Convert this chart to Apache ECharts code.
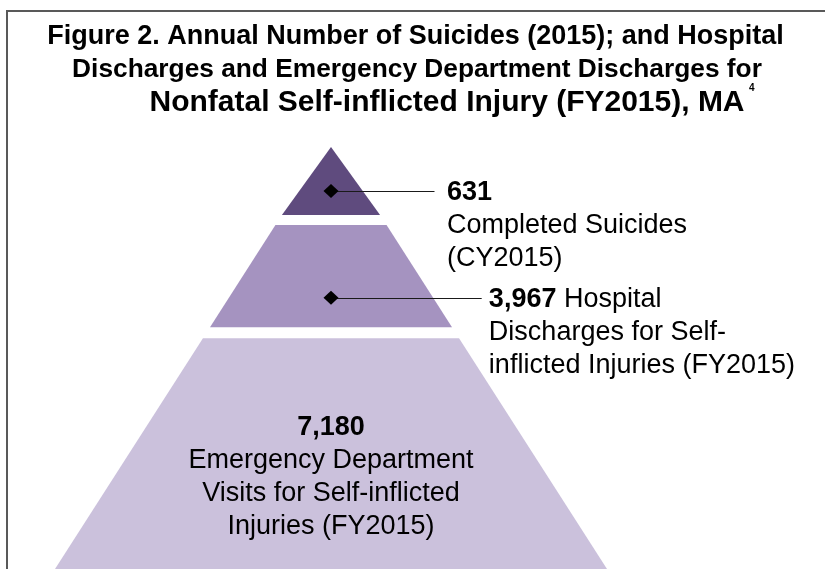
<!DOCTYPE html>
<html>
<head>
<meta charset="utf-8">
<script src="https://cdn.jsdelivr.net/npm/echarts@6/dist/echarts.min.js"></script>
<style>
html, body { margin: 0; padding: 0; background: #ffffff; }
#chart { width: 825px; height: 569px; }
</style>
</head>
<body>
<div id="chart"></div>
<script>
// ---------------- data ----------------
const titleLines = [
  'Figure 2. Annual Number of Suicides (2015); and Hospital',
  'Discharges and Emergency Department Discharges for',
  'Nonfatal Self-inflicted Injury (FY2015), MA'
];
const footnoteMark = '4';
const tierNames = ['Completed Suicides', 'Hospital Discharges', 'Emergency Department Visits'];
const tierValues = [631, 3967, 7180];
const tierLeadText = ['', 'Hospital', ''];
const tierDetailLines = [
  ['Completed Suicides', '(CY2015)'],
  ['Discharges for Self-', 'inflicted Injuries (FY2015)'],
  ['Emergency Department', 'Visits for Self-inflicted', 'Injuries (FY2015)']
];

// ---------------- style / layout ----------------
const FONT = '"Liberation Sans", Arial, Helvetica, sans-serif';
const FS = 27, LH = 33;
const tierColors = ['#5f4b7e', '#a593c0', '#cbc1dc'];
// depth bands measured from the apex (0) to the bottom of the picture (1)
const tierBands = [[0, 0.161], [0.185, 0.427], [0.453, 1.0]];
const halfWidth = d => (d <= 0 ? 0 : 0.02 + 0.98 * d);
const labelLayout = [
  { mode: 'side', depth: 0.104, lineEnd: 0.375, textX: 0.42 },
  { mode: 'side', depth: 0.357, lineEnd: 0.546, textX: 0.572 },
  { mode: 'inside', depth: 0.781 }
];
// title line placement: [centre x, centre y, font size]
const titleLayout = [[415.5, 37, 27], [417, 70, 26.3], [447, 103, 30]];

const fmt = v => v.toLocaleString('en-US');

function labelText(i) {
  const parts = [];
  const first = '{b|' + fmt(tierValues[i]) + '}' + (tierLeadText[i] ? '{n| ' + tierLeadText[i] + '}' : '');
  parts.push(first);
  tierDetailLines[i].forEach(l => parts.push('{n|' + l + '}'));
  return parts.join('\n');
}

const rich = {
  b: { fontFamily: FONT, fontWeight: 'bold', fontSize: FS, lineHeight: LH, fill: '#000', color: '#000' },
  n: { fontFamily: FONT, fontWeight: 'normal', fontSize: FS, lineHeight: LH, fill: '#000', color: '#000' }
};

function renderItem(params, api) {
  const i = params.dataIndex;
  const band = tierBands[i];
  const t = band[0], b = band[1];
  const pts = [];
  if (halfWidth(t) === 0) {
    pts.push(api.coord([0, t]));
  } else {
    pts.push(api.coord([-halfWidth(t), t]));
    pts.push(api.coord([halfWidth(t), t]));
  }
  pts.push(api.coord([halfWidth(b), b]));
  pts.push(api.coord([-halfWidth(b), b]));

  const children = [{
    type: 'polygon',
    shape: { points: pts },
    style: { fill: tierColors[i], stroke: null }
  }];

  const lay = labelLayout[i];
  const text = labelText(i);
  if (lay.mode === 'side') {
    const c = api.coord([0, lay.depth]);
    const e = api.coord([lay.lineEnd, lay.depth]);
    const tx = api.coord([lay.textX, lay.depth]);
    const cy = Math.round(c[1]) + 0.5;
    children.push({
      type: 'line',
      shape: { x1: c[0], y1: cy, x2: e[0], y2: cy },
      style: { stroke: '#1a1a1a', lineWidth: 1 }
    });
    children.push({
      type: 'polygon',
      shape: { points: [[c[0], c[1] - 7], [c[0] + 7.5, c[1]], [c[0], c[1] + 7], [c[0] - 7.5, c[1]]] },
      style: { fill: '#000' }
    });
    children.push({
      type: 'text',
      style: {
        text: text, x: tx[0], y: c[1] - LH / 2 + 2,
        rich: rich, font: FS + 'px ' + FONT, fill: '#000',
        align: 'left', verticalAlign: 'top',
        textAlign: 'left', textVerticalAlign: 'top'
      }
    });
  } else {
    const c = api.coord([0, lay.depth]);
    children.push({
      type: 'text',
      style: {
        text: text, x: c[0], y: c[1],
        rich: rich, font: FS + 'px ' + FONT, fill: '#000',
        align: 'center', verticalAlign: 'middle',
        textAlign: 'center', textVerticalAlign: 'middle'
      }
    });
  }
  return { type: 'group', children: children };
}

const titleGraphics = titleLines.map((line, k) => ({
  type: 'text',
  x: titleLayout[k][0], y: titleLayout[k][1],
  style: {
    text: line,
    font: 'bold ' + titleLayout[k][2] + 'px ' + FONT,
    fill: '#000',
    align: 'center', verticalAlign: 'middle',
    textAlign: 'center', textVerticalAlign: 'middle'
  }
}));

const chart = echarts.init(document.getElementById('chart'), null, { renderer: 'canvas' });
chart.setOption({
  animation: false,
  backgroundColor: '#ffffff',
  grid: { left: 55, right: 218, top: 147, bottom: 0 },
  xAxis: { type: 'value', min: -1, max: 1, show: false },
  yAxis: { type: 'value', min: 0, max: 1, inverse: true, show: false },
  graphic: [
    {
      type: 'rect',
      shape: { x: 7, y: 11, width: 900, height: 700 },
      style: { fill: 'none', stroke: '#595959', lineWidth: 2 },
      silent: true
    }
  ].concat(titleGraphics).concat([
    {
      type: 'text',
      x: 749, y: 83,
      style: {
        text: footnoteMark,
        font: 'bold 10px ' + FONT,
        fill: '#000',
        align: 'left', verticalAlign: 'top',
        textAlign: 'left', textVerticalAlign: 'top'
      }
    }
  ]),
  series: [{
    type: 'custom',
    name: 'Self-inflicted injury pyramid',
    coordinateSystem: 'cartesian2d',
    renderItem: renderItem,
    encode: { x: 0, y: 1, tooltip: 2 },
    data: tierValues.map((v, i) => ({ name: tierNames[i], value: [0, 0.5, v] })),
    clip: false
  }]
});
</script>
</body>
</html>
